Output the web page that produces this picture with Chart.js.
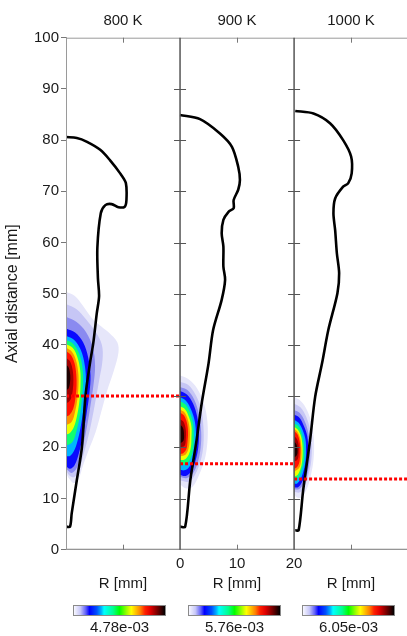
<!DOCTYPE html>
<html>
<head>
<meta charset="utf-8">
<title>Axial distance – 800 / 900 / 1000 K</title>
<script src="https://cdn.jsdelivr.net/npm/chart.js@4.4.1/dist/chart.umd.min.js"></script>
<style>
  html, body { margin: 0; padding: 0; background: #fff; overflow: hidden; }
  #wrap { position: relative; width: 407px; height: 636px;
          font-family: 'Liberation Sans', Arial, sans-serif; color: #1a1a1a; }
  #chart { position: absolute; left: 0; top: 0; }
  .lbl  { position: absolute; white-space: nowrap; transform: translateX(-50%);
          font-size: 15px; line-height: 15px; }
  .cbar { position: absolute; height: 11px; border: 1px solid #8a8a8a; box-sizing: border-box;
          background: linear-gradient(to right, #f8f8ff 0%, #c8c8f8 7%, #6060f8 13%, #0000ff 17%,
            #0050ff 25%, #00b0ff 30%, #00ffff 33%, #00ff90 43%, #00ff00 50%, #a0ff00 58%,
            #ffff00 63%, #ffc000 68%, #ff8000 73%, #ff2000 78%, #e00000 84%, #800000 91%, #000 100%); }
</style>
</head>
<body>
<div id="wrap">
  <canvas id="chart" width="407" height="636"></canvas>
</div>
<script>
'use strict';

/* ── data (r [mm], axial distance [mm]) ── */

const PANEL_TITLES = ['800 K', '900 K', '1000 K'];
const PEAK_LABELS  = ['4.78e-03', '5.76e-03', '6.05e-03'];
const Y_TICKS      = [0, 10, 20, 30, 40, 50, 60, 70, 80, 90, 100];
const X_TICK_LABELS = { 20: '0', 30: '10', 40: '20' };   // only the middle panel is labelled
const FRONT_Z      = [30.0, 16.8, 13.8];                  // red dotted lines

// contour fill colours, outermost level first
const LEVEL_COLORS = ['#e6e6fa', '#c6c6f5', '#8a8af0', '#0a0aff', '#00b4ff', '#10ff70',
                      '#f0ff00', '#ff9000', '#ff1000', '#a00000', '#1e0000'];

const OUTLINE_800 = [[0,4.5],[0.7,4.5],[1.0,7.1],[1.9,13.6],[2.8,20.1],[3.4,29.9],[4.2,36.4],
  [4.8,40.5],[5.4,46.2],[5.8,49.5],[5.6,53],[5.5,59],[6.1,65.7],[6.9,67.3],[8.0,67.5],
  [9.2,66.9],[10.3,67.0],[10.6,68.3],[10.5,71.6],[9.5,73.5],[7.7,76.1],[6.0,78.1],
  [3.6,79.7],[1.9,80.4],[0,80.6]];

const OUTLINE_900 = [[0,4.5],[0.9,4.5],[1.8,13.6],[2.9,21.4],[3.8,28.6],[5.0,36.4],[5.8,42.9],
  [7.3,48.8],[7.9,52.7],[7.6,55.3],[7.6,59.2],[7.3,61.8],[7.6,64.4],[8.5,66.0],[9.4,66.7],
  [9.4,68.3],[10.2,70.3],[10.5,72.2],[10.2,74.8],[9.1,78.7],[7.0,81.3],[3.5,84.1],[0,84.9]];

const OUTLINE_1000 = [[0.2,3.8],[0.8,3.8],[1.6,11.7],[2.8,21.4],[3.7,29.9],[4.9,36.4],[6.0,42.9],
  [7.6,50.1],[7.9,54.0],[7.5,57.9],[7.2,62.4],[6.9,65.7],[7.2,68.6],[8.6,70.9],[9.5,71.6],
  [10.1,73.5],[10.0,76.8],[8.6,80.0],[6.3,83.3],[3.4,85.2],[0.2,85.7]];

const CONTOURS_800 = [
  [[0,50.4],[1.5,49.6],[3,47.6],[4.7,45],[6.2,43.6],[7.6,42.3],[9.0,40.5],[9.2,38.5],[8.4,35],
   [7.2,31],[6.2,27],[5.2,23],[4.0,19.5],[3.0,16.5],[2.2,13.8],[1.4,13],[0.6,13.8],[0,15]],
  [[0,48],[1.8,47],[3.5,45],[5.2,42.5],[6.3,40],[6.4,37],[5.8,33],[5.0,28],[4.2,23.5],
   [3.3,19.5],[2.4,16],[1.5,14.2],[0.6,14.5],[0,15.5]],
  [[0,45.5],[1.8,44.5],[3.5,42.5],[4.7,39.5],[5.1,36],[4.8,32],[4.2,27.5],[3.5,23],[2.7,19],
   [1.9,16],[1.0,15],[0,15.8]],
  [[0,43.2],[1.6,42.4],[3.0,40.5],[3.9,37.5],[4.3,34],[4.1,30.5],[3.6,26.5],[3.0,22.5],
   [2.3,19],[1.5,16.5],[0.7,15.8],[0,16.3]],
  [[0,41.8],[1.4,41],[2.6,39],[3.3,36],[3.5,33],[3.3,29.5],[2.8,25.5],[2.2,22],[1.5,19.5],
   [0.7,18.3],[0,18.3]],
  [[0,41],[1.3,40.2],[2.3,38.3],[2.9,35.5],[3.0,32.5],[2.8,29.5],[2.4,26],[1.8,23],[1.1,21],[0,20.3]],
  [[0,40.2],[1.2,39.4],[2.0,37.6],[2.5,35],[2.55,32.3],[2.4,29.5],[2.0,26.5],[1.4,24],[0.7,22.8],[0,22.5]],
  [[0,39.5],[1.0,38.7],[1.75,37],[2.15,34.6],[2.2,32.2],[2.0,29.5],[1.6,27],[1.0,25],[0,24.3]],
  [[0,38.8],[0.9,38],[1.5,36.4],[1.8,34.2],[1.85,32],[1.65,29.6],[1.25,27.5],[0.6,26.3],[0,26]],
  [[0,37.5],[0.7,36.8],[1.15,35.2],[1.3,33.3],[1.2,31.3],[0.9,29.6],[0.4,28.8],[0,28.6]],
  [[0,36.2],[0.5,35.5],[0.75,34],[0.7,32.6],[0.45,31.5],[0,31.2]]
];

const CONTOURS_900 = [
  [[0,34],[1.5,33.3],[3,31.5],[4.2,28.5],[4.8,25],[4.8,21],[4.3,17.5],[3.3,14.5],[2.2,12.3],[1.0,12],[0,12.8]],
  [[0,32.8],[1.4,32.2],[2.7,30.3],[3.7,27.5],[4.1,24],[4.1,20.5],[3.6,17.3],[2.7,14.8],[1.6,13.3],[0,13.5]],
  [[0,31.8],[1.3,31.2],[2.5,29.3],[3.3,26.5],[3.7,23],[3.6,19.8],[3.1,17],[2.3,15],[1.2,14],[0,14.2]],
  [[0,31],[1.2,30.3],[2.3,28.5],[3.0,26],[3.3,23],[3.2,20],[2.7,17.3],[2.0,15.3],[1.0,14.4],[0,14.6]],
  [[0,29.8],[1.1,29],[2.0,27.2],[2.6,25],[2.8,22.5],[2.7,19.8],[2.2,17.5],[1.5,16],[0.7,15.5],[0,15.6]],
  [[0,29],[1.0,28.3],[1.8,26.6],[2.3,24.5],[2.4,22.2],[2.3,19.8],[1.9,18],[1.2,16.8],[0,16.5]],
  [[0,28],[0.9,27.4],[1.6,25.8],[2.0,24],[2.0,22],[1.9,20],[1.5,18.5],[0.8,17.6],[0,17.5]],
  [[0,27.4],[0.8,26.8],[1.4,25.3],[1.7,23.5],[1.7,21.5],[1.5,19.8],[1.0,18.6],[0,18.2]],
  [[0,26.8],[0.7,26.2],[1.2,24.8],[1.4,23],[1.3,21],[1.1,19.6],[0.6,18.9],[0,18.7]],
  [[0,25.5],[0.6,25],[1.0,23.5],[1.0,21.5],[0.8,20.3],[0,20]],
  [[0,24.5],[0.5,23.8],[0.7,22.5],[0.6,21.3],[0,20.8]]
];

const CONTOURS_1000 = [
  [[0,29.8],[1.2,29],[2.3,27.2],[3.1,24.5],[3.5,21],[3.4,17.5],[2.9,14.3],[2.2,11.8],[1.3,10.2],[0.5,10.2],[0,10.8]],
  [[0,28.5],[1.1,27.8],[2.1,26],[2.8,23.5],[3.1,20.5],[3.0,17.3],[2.5,14.5],[1.8,12.3],[1.0,11.2],[0,11.3]],
  [[0,27.3],[1.0,26.7],[1.9,25],[2.5,22.8],[2.8,20],[2.7,17.3],[2.3,14.8],[1.6,12.8],[0.8,11.8],[0,11.8]],
  [[0,26.4],[0.9,25.8],[1.7,24.2],[2.3,22.2],[2.5,19.7],[2.4,17.3],[2.0,15],[1.4,13.2],[0.7,12.2],[0,12.2]],
  [[0,25.4],[0.8,24.8],[1.5,23.4],[2.0,21.5],[2.1,19.3],[2.0,17.2],[1.6,15.2],[1.1,13.7],[0.5,12.9],[0,12.9]],
  [[0,24.7],[0.8,24.1],[1.3,22.8],[1.7,21],[1.8,19.2],[1.7,17.2],[1.3,15.5],[0.8,14.1],[0,13.6]],
  [[0,24],[0.7,23.4],[1.2,22.2],[1.45,20.6],[1.5,19],[1.4,17.2],[1.1,15.7],[0.6,14.6],[0,14.3]],
  [[0,23.6],[0.6,23],[1.05,21.8],[1.25,20.3],[1.3,18.8],[1.2,17.2],[0.9,16],[0,15.2]],
  [[0,23.2],[0.55,22.6],[0.95,21.3],[1.1,19.8],[1.05,18.2],[0.85,16.8],[0.4,16],[0,15.8]],
  [[0,22.2],[0.5,21.6],[0.8,20.3],[0.8,18.8],[0.6,17.6],[0,17.2]],
  [[0,21.2],[0.4,20.6],[0.6,19.5],[0.5,18.5],[0,18]]
];

/* ── layout ── */

const PANEL_WIDTH = 20;       // mm shown per panel
const X_MAX       = 59.8;     // third panel is cut by the window edge
const DIVIDERS    = [20, 40];
const MID_TICKS   = [10, 30, 50];

const OUTLINES = [OUTLINE_800, OUTLINE_900, OUTLINE_1000];
const CONTOURS = [CONTOURS_800, CONTOURS_900, CONTOURS_1000];

/* ── datasets: each panel is shifted by PANEL_WIDTH on one shared x scale ── */

const datasets = [];
PANEL_TITLES.forEach((_, k) => {
  const off  = k * PANEL_WIDTH;
  const toXY = pts => pts.map(([r, z]) => ({ x: r + off, y: z }));

  CONTOURS[k].forEach((poly, lvl) => {
    datasets.push({
      data: toXY(poly),
      fill: 'shape',
      backgroundColor: LEVEL_COLORS[lvl],
      borderColor: LEVEL_COLORS[lvl],
      borderWidth: 0,
      tension: 0.35,
      pointRadius: 0,
      order: 100 - lvl
    });
  });

  datasets.push({
    data: toXY(OUTLINES[k]),
    fill: false,
    borderColor: '#000',
    borderWidth: 2.6,
    tension: 0.3,
    pointRadius: 0,
    order: 1
  });

  datasets.push({
    data: [{ x: off, y: FRONT_Z[k] }, { x: Math.min(off + PANEL_WIDTH, X_MAX), y: FRONT_Z[k] }],
    fill: false,
    borderColor: '#ff0000',
    borderWidth: 3,
    borderDash: [3, 2],
    pointRadius: 0,
    order: 0
  });
});

/* ── frame, panel dividers and inward ticks ── */
const panelFrame = {
  id: 'panelFrame',
  afterDatasetsDraw(chart) {
    const { ctx, chartArea: a, scales: { x, y } } = chart;
    const line = (x0, y0, x1, y1) => { ctx.beginPath(); ctx.moveTo(x0, y0); ctx.lineTo(x1, y1); ctx.stroke(); };
    ctx.save();
    ctx.lineWidth = 1;

    ctx.strokeStyle = '#9a9a9a';
    line(a.left + 0.5, a.top, a.left + 0.5, a.bottom);
    line(a.left, a.top + 0.5, a.right, a.top + 0.5);
    line(a.left, a.bottom - 0.5, a.right, a.bottom - 0.5);

    ctx.strokeStyle = '#555';
    ctx.lineWidth = 1.5;
    DIVIDERS.forEach(v => {
      const px = x.getPixelForValue(v);
      line(px, a.top, px, a.bottom);
      ctx.lineWidth = 1;
      Y_TICKS.slice(1, -1).forEach(t => {
        const py = Math.round(y.getPixelForValue(t)) + 0.5;
        line(px - 6, py, px + 6, py);
      });
      ctx.lineWidth = 1.5;
    });

    ctx.strokeStyle = '#777';
    ctx.lineWidth = 1;
    MID_TICKS.forEach(v => {
      const px = Math.round(x.getPixelForValue(v)) + 0.5;
      line(px, a.top, px, a.top + 5);
      line(px, a.bottom - 5, px, a.bottom);
    });
    ctx.restore();
  }
};

const TEXT_COLOR = '#1a1a1a';
Chart.defaults.font.family = "'Liberation Sans', Arial, sans-serif";

new Chart(document.getElementById('chart'), {
  type: 'line',
  data: { datasets },
  options: {
    responsive: false,
    animation: false,
    events: [],
    layout: { padding: { top: 37.7, right: 0, bottom: 56.3, left: 0 } },
    plugins: { legend: { display: false }, tooltip: { enabled: false } },
    scales: {
      x: {
        type: 'linear',
        min: 0,
        max: X_MAX,
        grid: { display: false },
        border: { display: true, color: '#8c8c8c' },
        ticks: {
          stepSize: 10,
          includeBounds: false,
          autoSkip: false,
          maxRotation: 0,
          padding: -3,
          color: TEXT_COLOR,
          font: { size: 15 },
          callback: v => X_TICK_LABELS[v] ?? ''
        },
        afterFit: s => { s.height = 30; }
      },
      y: {
        min: 0,
        max: 100,
        ticks: { stepSize: 10, padding: 2, color: TEXT_COLOR, font: { size: 15 } },
        grid: { drawOnChartArea: false, drawTicks: true, tickLength: 5, color: '#777' },
        border: { color: '#9a9a9a' },
        title: {
          display: true,
          text: 'Axial distance [mm]',
          color: TEXT_COLOR,
          font: { size: 16 },
          padding: { top: 3, bottom: 0 }
        },
        afterFit: s => { s.width = 66; }
      }
    }
  },
  plugins: [panelFrame]
});

/* ── panel titles, R labels and colour bars (HTML text) ── */
const wrap = document.getElementById('wrap');
const PANEL_CENTRES = [123, 237, 351];
const CBAR_LEFT     = [73, 188, 302];

function addLabel(text, cx, top) {
  const el = document.createElement('div');
  el.className = 'lbl';
  el.textContent = text;
  el.style.left = cx + 'px';
  el.style.top  = top + 'px';
  wrap.appendChild(el);
}

PANEL_TITLES.forEach((t, k) => {
  addLabel(t, PANEL_CENTRES[k], 12);
  addLabel('R [mm]', PANEL_CENTRES[k], 575);

  const bar = document.createElement('div');
  bar.className = 'cbar';
  bar.style.left  = CBAR_LEFT[k] + 'px';
  bar.style.top   = '605px';
  bar.style.width = '93px';
  wrap.appendChild(bar);

  addLabel(PEAK_LABELS[k], CBAR_LEFT[k] + 46.5, 619);
});
</script>
</body>
</html>
